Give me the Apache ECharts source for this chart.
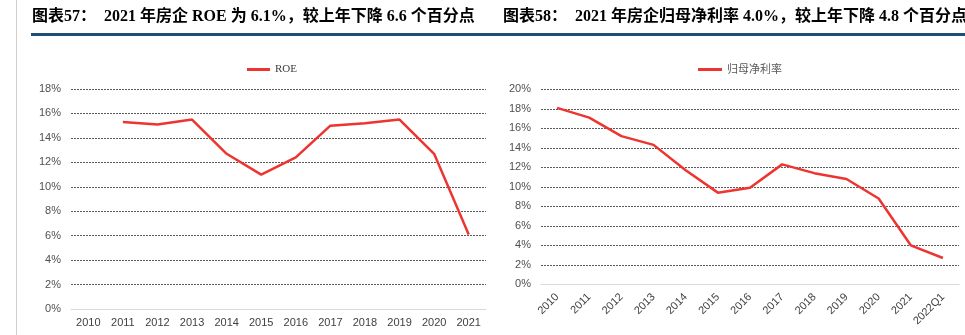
<!DOCTYPE html>
<html><head><meta charset="utf-8">
<script src="https://cdn.jsdelivr.net/npm/echarts@6/dist/echarts.min.js"></script>
<style>html,body{margin:0;padding:0;background:#fff}#c{width:965px;height:335px}</style>
</head><body><div id="c"></div>
<script>
const roeCategories = ['2010','2011','2012','2013','2014','2015','2016','2017','2018','2019','2020','2021'];
const roeValues = [null, 15.3, 15.1, 15.5, 12.7, 11.0, 12.4, 15.0, 15.2, 15.5, 12.7, 6.1];
const roeTicks = [0, 18, 2];
const npmCategories = ['2010','2011','2012','2013','2014','2015','2016','2017','2018','2019','2020','2021','2022Q1'];
const npmValues = [18.1, 17.1, 15.2, 14.3, 11.7, 9.4, 9.9, 12.3, 11.4, 10.8, 8.8, 4.0, 2.7];
const npmTicks = [0, 20, 2];
const title1 = '图表57：  2021 年房企 ROE 为 6.1%，较上年下降 6.6 个百分点';
const title2 = '图表58：  2021 年房企归母净利率 4.0%，较上年下降 4.8 个百分点';

const chart = echarts.init(document.getElementById('c'), null, {renderer:'canvas'});
const red = '#EE3430';
const titleFont = '"Liberation Serif","Times New Roman","Noto Sans CJK SC",serif';
const sans = '"Liberation Sans",Arial,"Noto Sans CJK SC",sans-serif';
const splitStyle = {show:true, lineStyle:{color:'#5a5a5a', type:[2,1], width:1}};
function yAx(t, gi){
  return {type:'value', gridIndex:gi, min:t[0], max:t[1], interval:t[2],
    axisLabel:{formatter:v=>v+'%', color:'#505050', fontSize:11, fontFamily:sans, margin:10},
    axisLine:{show:false}, axisTick:{show:false}, splitLine:splitStyle};
}
chart.setOption({
  animation:false,
  graphic:[
    {type:'line', shape:{x1:16.5,y1:0,x2:16.5,y2:335}, style:{stroke:'#cfcfcf', lineWidth:1}},
    {type:'rect', shape:{x:31,y:33,width:934,height:3}, style:{fill:'#1F4E79'}}
  ],
  title:[
    {text:title1, left:32, top:9, padding:0, textStyle:{fontFamily:titleFont, fontWeight:'bold', fontSize:16, color:'#000'}},
    {text:title2, left:503, top:9, padding:0, textStyle:{fontFamily:titleFont, fontWeight:'bold', fontSize:16, color:'#000'}}
  ],
  legend:[
    {data:['ROE'], left:247, top:59, itemWidth:23, itemHeight:3, itemGap:5, icon:'rect', padding:[5,0],
      textStyle:{fontFamily:titleFont, fontSize:11, color:'#404040'}},
    {data:['归母净利率'], left:698, top:59, itemWidth:24, itemHeight:3, itemGap:5, icon:'rect', padding:[5,0],
      textStyle:{fontFamily:sans, fontSize:11, color:'#595959'}}
  ],
  grid:[
    {left:71, top:89, width:415, height:220},
    {left:541, top:89.3, width:418, height:195}
  ],
  xAxis:[
    {type:'category', gridIndex:0, data:roeCategories, boundaryGap:true,
      axisLine:{lineStyle:{color:'#d9d9d9'}}, axisTick:{show:false},
      axisLabel:{color:'#404040', fontSize:11, fontFamily:sans, margin:8}},
    {type:'category', gridIndex:1, data:npmCategories, boundaryGap:true,
      axisLine:{lineStyle:{color:'#d9d9d9'}}, axisTick:{show:false},
      axisLabel:{color:'#404040', fontSize:11, fontFamily:sans, margin:11, rotate:45, interval:0}}
  ],
  yAxis:[yAx(roeTicks,0), yAx(npmTicks,1)],
  series:[
    {name:'ROE', type:'line', xAxisIndex:0, yAxisIndex:0, data:roeValues, symbol:'none',
      lineStyle:{color:red, width:2.5}, itemStyle:{color:red}},
    {name:'归母净利率', type:'line', xAxisIndex:1, yAxisIndex:1, data:npmValues, symbol:'none',
      lineStyle:{color:red, width:2.5}, itemStyle:{color:red}}
  ]
});
</script></body></html>
